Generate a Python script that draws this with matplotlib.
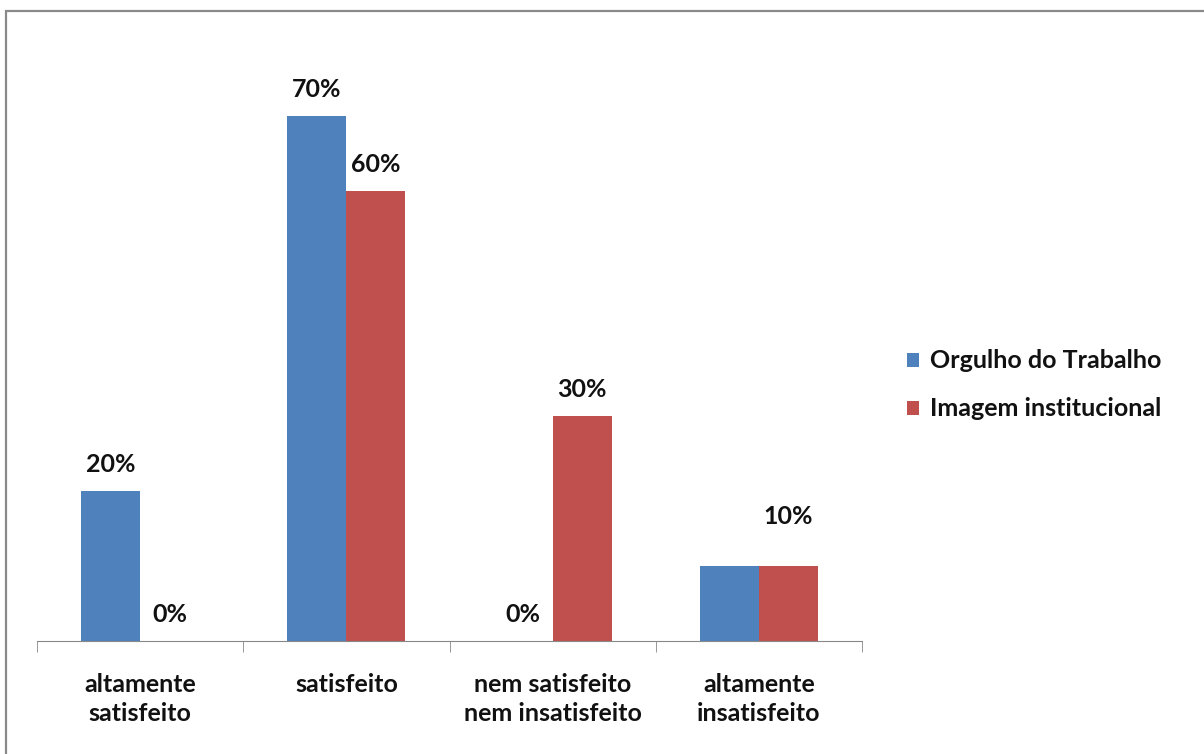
import matplotlib.pyplot as plt
from matplotlib.patches import Rectangle
from matplotlib.ticker import FixedLocator
import numpy as np

plt.rcParams['font.family'] = ['Lato', 'DejaVu Sans']

categorias = ['altamente\nsatisfeito', 'satisfeito', 'nem satisfeito\nnem insatisfeito', 'altamente\ninsatisfeito']
orgulho = [20, 70, 0, 10]
imagem = [0, 60, 30, 10]
series_nomes = ['Orgulho do Trabalho', 'Imagem institucional']
cores = ['#4F81BD', '#C0504D']

# rotulos escondidos / deslocados (serie, categoria)
ocultos = {(0, 3)}
desloc_extra = {(1, 3): 16}

fig = plt.figure(figsize=(12.04, 7.54), dpi=100)
fig.patches.append(Rectangle((6/1204, -0.1), 1.2, 1 - 11/754 + 0.1, transform=fig.transFigure,
                             fill=False, edgecolor='#8a8a8a', linewidth=1.6))

ax = fig.add_axes([37/1204, 1 - 641/754, (862 - 37)/1204, 600/754])
x = np.arange(len(categorias))
w = 0.2865

for s, (vals, cor, nome) in enumerate(zip([orgulho, imagem], cores, series_nomes)):
    pos = x + (s - 0.5) * w
    ax.bar(pos, vals, width=w, color=cor, label=nome, zorder=2)
    for i, (px, v) in enumerate(zip(pos, vals)):
        if (s, i) in ocultos:
            continue
        ax.annotate(f'{v}%', (px, v), xytext=(0, 11 + desloc_extra.get((s, i), 0)),
                    textcoords='offset points', ha='center', va='bottom',
                    fontsize=18, fontweight='bold', color='#111111')

ax.set_xlim(-0.5, len(categorias) - 0.5)
ax.set_ylim(0, 80)
for lado in ['top', 'right', 'left']:
    ax.spines[lado].set_visible(False)
ax.spines['bottom'].set_color('#888888')
ax.set_yticks([])

ax.set_xticks(x)
ax.set_xticklabels(categorias, fontsize=18, fontweight='bold', color='#111111', linespacing=1.3)
ax.tick_params(axis='x', which='major', length=0, pad=23)
ax.xaxis.set_minor_locator(FixedLocator(np.arange(-0.5, len(categorias), 1.0)))
ax.tick_params(axis='x', which='minor', length=8, color='#888888', direction='out')

leg = fig.legend(loc='center left', bbox_to_anchor=(884/1204, 1 - 385/754), frameon=False,
                 prop={'size': 18, 'weight': 'bold'}, handlelength=0.5, handleheight=0.5,
                 handletextpad=0.45, labelspacing=1.0)
for t in leg.get_texts():
    t.set_color('#111111')

fig.savefig('out.png', dpi=100)
